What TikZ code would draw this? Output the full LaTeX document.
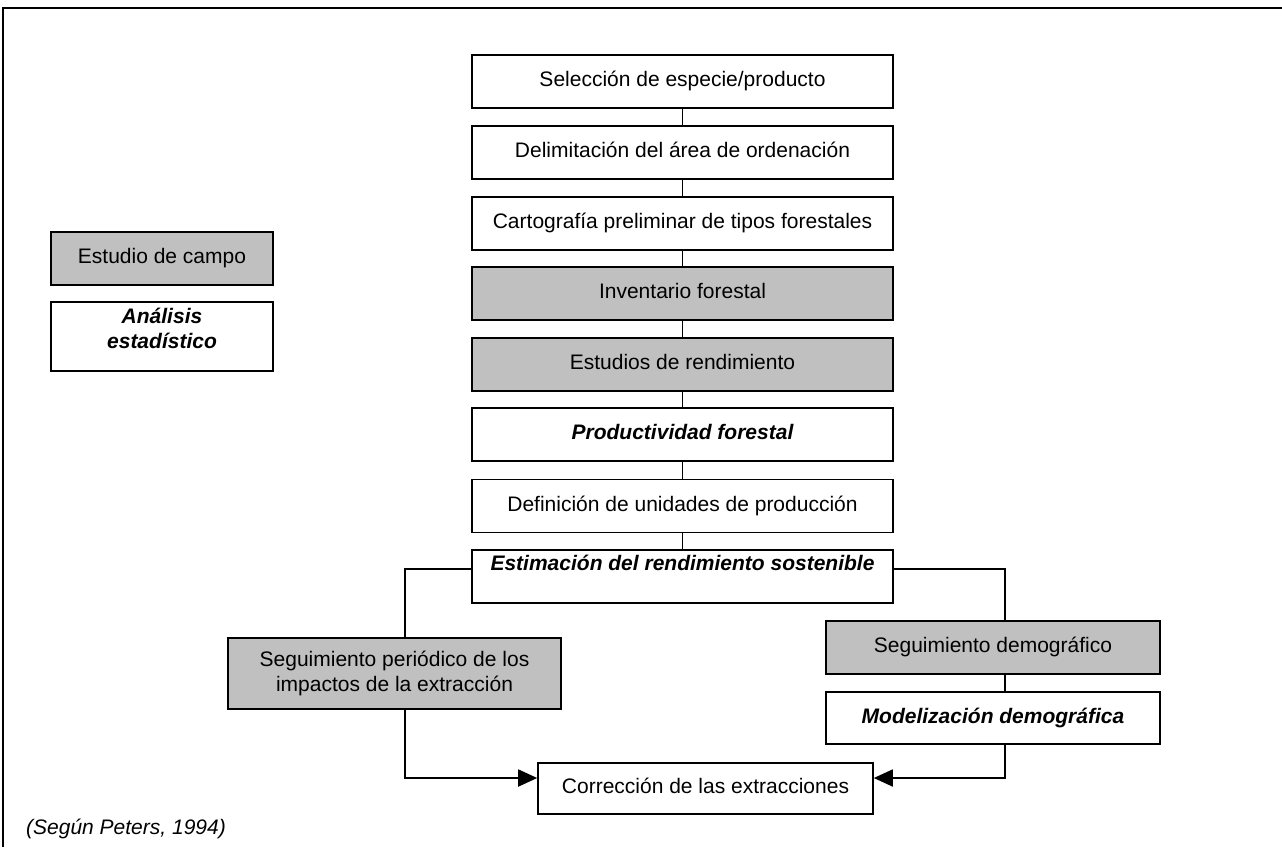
\documentclass[tikz,border=0pt]{standalone}
\usepackage{fontspec}
\setmainfont{Liberation Sans}
\usetikzlibrary{arrows.meta}
\definecolor{boxgray}{RGB}{192,192,192}
\begin{document}
\begin{tikzpicture}[x=1pt,y=-1pt,
  box/.style={draw, line width=1.6pt, rectangle, inner sep=0pt, align=center,
    font=\fontsize{21}{24.4}\selectfont},
  oneline/.style={text height=15pt, text depth=4.5pt},
  mainbox/.style={box, oneline, minimum width=421pt, minimum height=53pt},
  graybox/.style={fill=boxgray},
  bi/.style={font=\fontsize{21}{24.4}\selectfont\bfseries\itshape},
  conn/.style={line width=1.8pt},
  arr/.style={line width=1.8pt, -{Triangle[length=19pt,width=17pt]}}]
\useasboundingbox (0,0) rectangle (1282,847);
\draw[line width=2pt] (3,847) -- (3,8) -- (1282,8);

% main column
\node[mainbox] (b1) at (682.5,81.5) {Selección de especie/producto};
\node[mainbox] (b2) at (682.5,152.5) {Delimitación del área de ordenación};
\node[mainbox] (b3) at (682.5,223.5) {Cartografía preliminar de tipos forestales};
\node[mainbox,graybox] (b4) at (682.5,293.5) {Inventario forestal};
\node[mainbox,graybox] (b5) at (682.5,364.5) {Estudios de rendimiento};
\node[mainbox,bi] (b6) at (682.5,434.5) {Productividad forestal};
\node[mainbox] (b7) at (682.5,506) {Definición de unidades de producción};
\node[mainbox,bi,text depth=27pt] (b8) at (682.5,576.5) {Estimación del rendimiento sostenible};

\draw[conn] (b1) -- (b2);
\draw[conn] (b2) -- (b3);
\draw[conn] (b3) -- (b4);
\draw[conn] (b4) -- (b5);
\draw[conn] (b5) -- (b6);
\draw[conn] (b6) -- (b7);
\draw[conn] (b7) -- (b8);

% legend
\node[box,oneline,graybox,minimum width=222pt,minimum height=53pt] (leg1) at (162,258.5) {Estudio de campo};
\node[box,bi,minimum width=222pt,minimum height=69pt,text height=39.4pt,text depth=16pt] (leg2) at (162,336.5) {Análisis\\estadístico};

% branches
\node[box,graybox,minimum width=333pt,minimum height=71pt] (lb) at (394.5,673.5) {Seguimiento periódico de los\\impactos de la extracción};
\node[box,oneline,graybox,minimum width=334pt,minimum height=53pt] (sd) at (993,647.5) {Seguimiento demográfico};
\node[box,oneline,bi,minimum width=334pt,minimum height=52pt] (md) at (993,718) {Modelización demográfica};
\node[box,oneline,minimum width=335pt,minimum height=51pt] (corr) at (705.5,788.5) {Corrección de las extracciones};

\draw[conn] ([yshift=7.8pt]b8.west) -| ([xshift=10.5pt]lb.north);
\draw[arr] ([xshift=10.5pt]lb.south) |- ([yshift=10.5pt]corr.west);
\draw[conn] ([yshift=7.8pt]b8.east) -| ([xshift=12pt]sd.north);
\draw[conn] ([xshift=12pt]sd.south) -- ([xshift=12pt]md.north);
\draw[arr] ([xshift=12pt]md.south) |- ([yshift=10.5pt]corr.east);

\node[anchor=west,inner sep=0pt,font=\fontsize{21}{24.4}\selectfont\itshape] (src) at (26,829) {(Según Peters, 1994)};
\end{tikzpicture}
\end{document}
